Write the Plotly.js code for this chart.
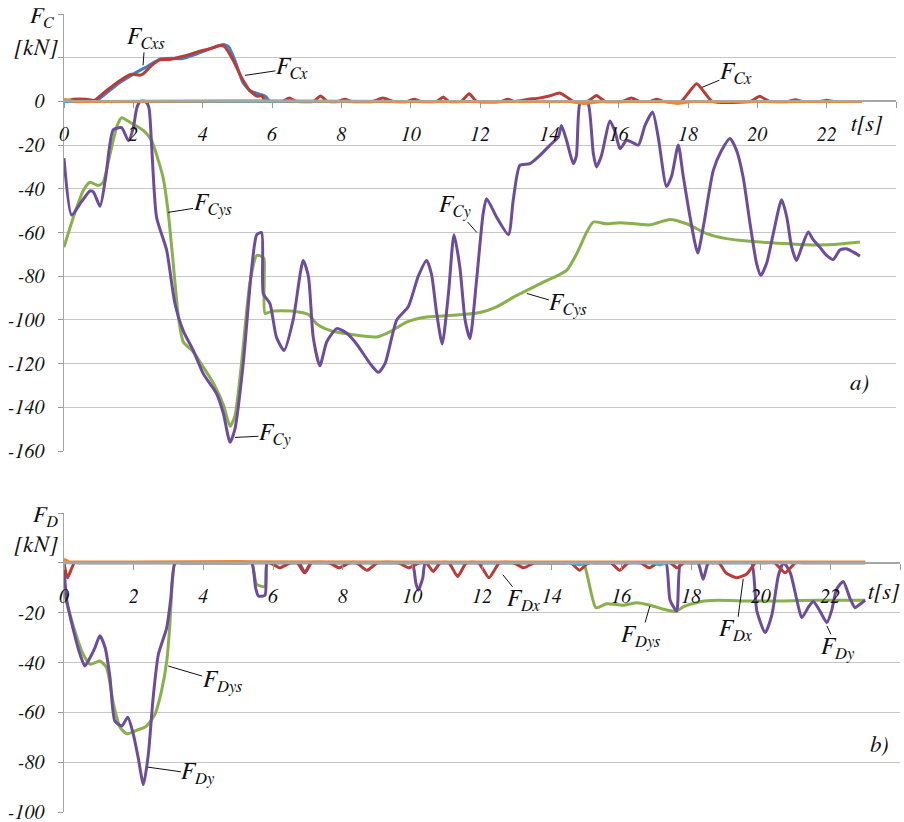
<!DOCTYPE html>
<html><head><meta charset="utf-8">
<script src="https://cdn.plot.ly/plotly-3.0.1.min.js"></script>
<style>html,body{margin:0;padding:0;background:#fff}#chart{width:904px;height:822px}</style>
</head><body><div id="chart"></div>
<script>
// ---------- top panel a) : F_C ----------
const FCy_t = [0,0.22,0.5,0.75,0.85,1.04,1.2,1.42,1.66,1.86,2.0,2.1,2.2,2.35,2.45,2.53,2.67,2.96,3.2,3.44,3.73,4.02,4.4,4.6,4.79,4.93,5.17,5.41,5.56,5.7,5.75,5.94,6.13,6.35,6.61,6.9,7.05,7.19,7.38,7.58,7.87,8.15,8.44,8.83,9.07,9.26,9.6,9.93,10.22,10.46,10.6,10.75,10.91,11.09,11.25,11.42,11.57,11.71,11.9,12.09,12.19,12.48,12.82,12.96,13.15,13.44,13.73,14.02,14.26,14.35,14.5,14.69,14.78,14.88,15.0,15.12,15.27,15.36,15.5,15.75,15.9,16.04,16.23,16.42,16.57,16.76,16.98,17.14,17.38,17.53,17.72,17.86,18.06,18.28,18.44,18.73,18.97,19.21,19.4,19.59,19.79,19.98,20.1,20.27,20.46,20.7,20.85,20.99,21.13,21.28,21.47,21.6,21.8,22.0,22.19,22.38,22.57,22.77,22.96];
const FCy_v = [-26,-52,-46,-41,-41.5,-48,-35,-13,-12,-18,-12,-3,0,0,-3,-21,-53,-68,-92.5,-105,-114,-124.7,-133.7,-143,-156,-150,-120,-77,-61,-60,-88,-92.5,-108,-114,-100,-72.8,-80,-108,-121,-110,-104,-106,-111,-120,-124,-120,-100,-94,-80,-72.8,-79,-97,-111,-88,-61,-76,-100,-108.5,-82,-51.4,-44.5,-53,-61,-45,-29.3,-28.5,-24.7,-20,-16.3,-11,-18,-28.5,-25,-1,0,-1,-24,-30,-25,-9,-14,-21.7,-17.8,-19,-20,-11,-4.9,-16.3,-39,-34,-20,-34,-53,-69.4,-57.5,-31.6,-22.4,-17,-22.4,-34.6,-56,-74.3,-79.6,-74,-60.5,-45,-53,-66.7,-72.8,-66.7,-59.8,-63,-66.7,-70.5,-72.4,-68,-67.4,-69,-70.8];

const FCys_t = [0,0.27,0.56,0.75,0.99,1.13,1.33,1.52,1.66,1.9,2.29,2.53,2.72,2.86,3.01,3.15,3.3,3.44,3.73,4.02,4.31,4.6,4.79,4.93,5.12,5.36,5.56,5.7,5.77,5.8,6.0,6.61,7.05,7.29,7.67,8.25,9.02,9.4,9.88,10.46,11.33,12.0,12.48,13.06,13.83,14.5,14.79,15.08,15.27,15.65,16.04,16.9,17.48,17.96,18.54,19.11,19.79,20.75,21.71,22.38,22.96];
const FCys_v = [-66.7,-53,-40.7,-37,-38.5,-37,-24,-11.7,-7.5,-9.5,-13.3,-18,-27,-35,-51.4,-74,-98.7,-110,-114.7,-121.6,-129,-139,-148.7,-144,-120,-83.4,-70.5,-71,-72,-97,-96,-96,-97.5,-101.8,-104.8,-106.6,-107.8,-105.5,-101,-98.7,-97.8,-96.6,-94,-88.8,-82.7,-77.3,-69.7,-59.8,-55.2,-56,-55.5,-56.5,-54,-56,-60.5,-62.8,-64,-65,-65.7,-65.3,-64.4];

const FCx_t = [0,0.27,0.65,0.88,1.23,1.62,1.95,2.19,2.3,2.53,2.77,3.06,3.35,3.63,3.92,4.21,4.5,4.64,4.88,5.12,5.36,5.56,5.7,5.8,5.95,
  6.3,6.5,6.7, 7.2,7.4,7.6, 7.9,8.1,8.3, 8.9,9.2,9.5, 9.9,10.1,10.3, 10.75,10.94,11.1, 11.45,11.69,11.9, 12.6,12.8,13.0,
  13.4,13.7,14.0,14.3,14.5,14.7, 15.1,15.36,15.6, 16.1,16.37,16.6, 16.9,17.1,17.3, 17.8,18.25,18.7, 19.8,20.07,20.35, 20.9,21.1,21.3, 21.8,22.0,22.2, 22.6,23.0];
const FCx_v = [0,1,1,0.5,5,9.6,12.4,12,12.8,16.5,19,19.2,20.3,21.5,23,24.1,25.6,25,18.8,11,5,2.4,2.6,0.5,0,
  0,1.5,0, 0,2.5,0, 0,1,0, 0,1.5,0, 0,1,0, 0,2,0, 0,3.5,0, 0,1,0,
  1,1.5,2.5,3.8,2,0, 0,2.7,0, 0,1.5,0, 0,1,0, 0,8.1,0, 0,2.3,0, 0,0.8,0, 0,0.5,0, 0,0];

const FCxs_t = [0,0.6,0.9,1.2,1.6,2.0,2.4,2.8,3.1,3.4,3.8,4.2,4.6,4.75,4.95,5.15,5.35,5.6,5.8,5.95,6.2,22.7,23];
const FCxs_v = [0,0,0,3.5,8.5,12.5,16,19.5,19.8,19.5,21.5,24,26,25,18,9,5,3.5,2.5,0,0,0,0];

const FCaux_t = [0,5,10,14.6,15,15.4,17.4,17.7,18,23];
const FCaux_v = [0,0,0,0,-0.6,0,0,-0.6,0,0];
const FCz_t = [0,0.3,1,5,10,12,14.6,15,15.5,17.3,17.7,18.1,23];
const FCz_v = [1,0,0,0.3,0,0,0,-1,0,0,-1,0,0];

// ---------- bottom panel b) : F_D ----------
const FDy_t = [0,0.08,0.27,0.46,0.6,0.75,0.89,1.03,1.18,1.32,1.46,1.66,1.83,1.99,2.13,2.28,2.42,2.56,2.71,2.95,3.06,3.19,3.4,5.2,5.39,5.5,5.58,5.77,5.83,6.0,6.6,6.75,6.92,7.1,7.3,9.8,10.0,10.1,10.17,10.3,10.37,10.6,17.1,17.28,17.4,17.59,17.7,17.9,18.05,18.2,18.35,18.5,18.7,19.55,19.74,19.89,20.13,20.32,20.51,20.66,20.85,21.04,21.18,21.37,21.51,21.7,21.9,22.04,22.18,22.37,22.57,22.71,22.86,23.0];
const FDy_v = [-2,-15,-27,-36.7,-41.4,-38,-34,-29.3,-34,-46,-63.5,-65.5,-62,-68.8,-78.2,-89,-77,-54,-36.7,-26,-15,0,0,0,0,-10,-13.3,-13,0,0,0,0,-4,0,0,0,0,-8,-11,-6,0,0,0,0,-15,-19.3,0,0,0,0,-6.6,0,0,0,0,-19.3,-28,-21,-5,0,-4,-15,-22,-17.8,-15.5,-19.3,-24,-19,-10.6,-7.5,-14.5,-18,-16.5,-15];

const FDys_t = [0,0.27,0.55,0.75,1.03,1.22,1.42,1.61,1.8,2.09,2.37,2.61,2.8,2.95,3.04,3.1,3.19,3.4,5.2,5.39,5.53,5.77,5.83,6.0,14.7,14.91,15.27,15.58,16.06,16.44,16.83,17.2,17.57,17.8,18.3,18.74,19.7,20.66,21.6,23.0];
const FDys_v = [-12,-25.5,-36.7,-40.7,-39.4,-42,-56.7,-66,-68.6,-67.2,-65.5,-60.8,-51.4,-39.4,-24.6,-10,0,0,0,0,-8.6,-9.5,0,0,0,0,-18,-16.4,-17,-16,-17,-18.6,-19.5,-17.5,-15.5,-15,-15.3,-15.3,-15,-15];

const FDx_t = [0,0.1,0.3,0.5,5.7, 5.9,6.2,6.5, 6.7,6.9,7.1, 7.6,7.9,8.2, 8.4,8.7,9.0, 9.6,9.9,10.2, 10.4,10.6,10.8, 11.05,11.3,11.55, 11.9,12.2,12.5, 12.9,13.2,13.5, 13.8,14.3, 14.55,14.8,15.05, 15.3,15.5, 15.7,15.95,16.2, 16.55,16.8,17.05, 17.4,17.6,17.8, 18.1,18.5, 18.8,19.0,19.3,19.6,19.85, 20.05,20.4,20.7,21.0, 21.3,22.7,23.0];
const FDx_v = [0,-6,0,0,0, 0,-2,0, 0,-4,0, 0,-2,0, 0,-3,0, 0,-2,0, 0,-3.5,0, 0,-5.5,0, 0,-6,0, 0,-2,0, 0,0, 0,-3,0, 0,0, 0,-3,0, 0,-2,0, 0,-2,0, 0,0, 0,-4,-6,-4.5,0, 0,0,-4,0, 0,0,0];

const FDaux_t = [0,14.5,14.8,15.1,16.9,17.1,17.3,23];
const FDaux_v = [0,0,-0.8,0,0,-0.8,0,0];
const FDz_t = [0,0.15,2,5,10,15,20,23];
const FDz_v = [1.5,0.3,0.3,0.5,0.3,0.3,0.3,0.3];

// ---------- tick labels ----------
const xTickVals = [0,2,4,6,8,10,12,14,16,18,20,22];
const xTickText = ['0','2','4','6','8','10','12','14','16','18','20','22'];
const xExtraTicks = [24];
const yTopVals = [0,-20,-40,-60,-80,-100,-120,-140,-160];
const yTopText = ['0','-20','-40','-60','-80','-100','-120','-140','-160'];
const yTopExtra = [20,40];
const yBotVals = [-20,-40,-60,-80,-100];
const yBotText = ['-20','-40','-60','-80','-100'];
const yBotExtra = [0,20];

// ---------- styling ----------
const W = 904, H = 822;
const C = {purple:'#6c4c9c', green:'#88b04b', red:'#b93c37', blue:'#3f7fc4', aqua:'#4bacc6', orange:'#ec8a33'};
const px2x = p => p / W, px2y = p => 1 - p / H;
const it = s => '<i>' + s + '</i>';
const SERIF = 'FreeSerif';

function tr(x, y, color, xa, ya, shape, sm) {
  return {x, y, type:'scatter', mode:'lines', xaxis:xa, yaxis:ya, hoverinfo:'skip',
    line:{color, width:3, shape: shape || 'spline', smoothing: sm || 0.6}, showlegend:false};
}
const data = [
  tr(FCys_t, FCys_v, C.green, 'x', 'y'),
  tr(FCy_t, FCy_v, C.purple, 'x', 'y'),
  tr(FCxs_t, FCxs_v, C.blue, 'x', 'y', 'spline', 0.5),
  tr(FCx_t, FCx_v, C.red, 'x', 'y', 'spline', 0.5),
  tr(FCaux_t, FCaux_v, C.aqua, 'x', 'y', 'linear'),
  tr(FCz_t, FCz_v, C.orange, 'x', 'y', 'linear'),
  tr(FDys_t, FDys_v, C.green, 'x2', 'y2'),
  tr(FDy_t, FDy_v, C.purple, 'x2', 'y2'),
  tr(FDx_t, FDx_v, C.red, 'x2', 'y2', 'spline', 0.5),
  tr(FDaux_t, FDaux_v, C.aqua, 'x2', 'y2', 'linear'),
  tr(FDz_t, FDz_v, C.orange, 'x2', 'y2', 'linear')
];

const tickFont = {family:SERIF, size:20, color:'#111'};
const annFont = {family:SERIF, size:24, color:'#111'};
const capFont = {family:SERIF, size:23, color:'#111'};

const topDom = [px2y(451), px2y(14)], botDom = [px2y(812), px2y(513)];
const topRange = [-160, 40], botRange = [-100, 20];
const zeroPos = (dom, r) => dom[0] + (0 - r[0]) / (r[1] - r[0]) * (dom[1] - dom[0]);

function xax(domain, dom, r) {
  return {domain, range:[0,24], anchor:'free', position: zeroPos(dom, r),
    tickmode:'array', tickvals:xTickVals, ticktext:xTickText.map(it), ticks:'outside', ticklen:6, tickcolor:'#999',
    minor:{tickmode:'array', tickvals:xExtraTicks, ticks:'outside', ticklen:6, tickcolor:'#999', showgrid:false},
    tickfont:tickFont, ticklabelstandoff:9, ticklabeloverflow:'allow', showgrid:false, zeroline:false,
    showline:true, linecolor:'#a6a6a6', linewidth:2, fixedrange:true};
}
function yax(domain, r, vals, text, extra, anchor) {
  return {domain, range:r, anchor, tickmode:'array', tickvals:vals, ticktext:text.map(it),
    ticks:'outside', ticklen:5, tickcolor:'#999', tickfont:tickFont, ticklabelstandoff:9, ticklabeloverflow:'allow',
    minor:{tickmode:'array', tickvals:extra, ticks:'outside', ticklen:5, tickcolor:'#999',
      showgrid:true, gridcolor:'#c6c6c6', gridwidth:1},
    showgrid:true, gridcolor:'#c6c6c6', gridwidth:1, zeroline:false,
    showline:true, linecolor:'#a6a6a6', linewidth:1.5, fixedrange:true};
}

const leaders = [
  ['F','Cxs','x','y',2.28,16.5,2,-27],
  ['F','Cx','x','y',5.22,11.9,47,-7],
  ['F','Cx','x','y',18.4,6.4,34,-14],
  ['F','Cys','x','y',3.0,-50.8,44,-7],
  ['F','Cy','x','y',11.91,-60,-22,-25],
  ['F','Cys','x','y',13.35,-87.9,41,12],
  ['F','Cy','x','y',4.93,-153.8,40,-2],
  ['F','Dys','x2','y2',2.99,-41.4,54,16],
  ['F','Dy','x2','y2',2.41,-82,50,7],
  ['F','Dx','x2','y2',12.6,-4.8,21,26],
  ['F','Dys','x2','y2',16.82,-17.3,-9,31],
  ['F','Dx','x2','y2',19.5,-6.4,-7,52],
  ['F','Dy','x2','y2',21.9,-25.3,11,23]
];
const annotations = leaders.map(l => ({
  text:it(l[0] + '<sub>' + l[1] + '</sub>'), xref:l[2], yref:l[3], x:l[4], y:l[5],
  ax:l[6], ay:l[7], axref:'pixel', ayref:'pixel', showarrow:true, arrowhead:0, arrowwidth:1,
  arrowcolor:'#111', standoff:0, startstandoff:0, font:annFont, borderpad:0
}));
const captions = [
  ['F<sub>C</sub>', 42, 18],
  ['[kN]', 36, 48],
  ['t[s]', 867, 125],
  ['a)', 859, 383],
  ['F<sub>D</sub>', 45, 517],
  ['[kN]', 36, 545],
  ['t[s]', 884, 592],
  ['b)', 879, 745]
];
captions.forEach(c => annotations.push({text:it(c[0]), xref:'paper', yref:'paper', x:px2x(c[1]), y:px2y(c[2]),
  xanchor:'center', yanchor:'middle', showarrow:false, font:capFont}));

const layout = {
  width:W, height:H, margin:{l:0,r:0,t:0,b:0}, paper_bgcolor:'#fff', plot_bgcolor:'#fff',
  font:{family:SERIF},
  xaxis: xax([px2x(64), px2x(896)], topDom, topRange),
  yaxis: yax(topDom, topRange, yTopVals, yTopText, yTopExtra, 'x'),
  xaxis2: xax([px2x(64), px2x(900)], botDom, botRange),
  yaxis2: yax(botDom, botRange, yBotVals, yBotText, yBotExtra, 'x2'),
  annotations, showlegend:false
};
Plotly.newPlot('chart', data, layout, {staticPlot:true, displayModeBar:false});
</script></body></html>
